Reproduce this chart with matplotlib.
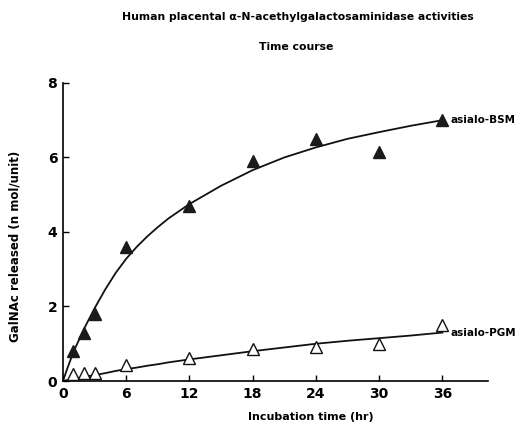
import matplotlib
matplotlib.use("Agg")
import matplotlib.pyplot as plt

# measured data points
time_pts = [1, 2, 3, 6, 12, 18, 24, 30, 36]
bsm_vals = [0.8, 1.3, 1.8, 3.6, 4.7, 5.9, 6.5, 6.15, 7.0]
pgm_vals = [0.2, 0.22, 0.22, 0.42, 0.62, 0.86, 0.92, 0.98, 1.5]

# fitted curves
curve_t = [0, 0.5, 1, 2, 3, 4, 5, 6, 7, 8, 9, 10, 12, 15, 18, 21, 24, 27, 30, 33, 36]
bsm_curve = [0, 0.4, 0.78, 1.4, 1.95, 2.45, 2.9, 3.28, 3.6, 3.88, 4.13, 4.36, 4.75, 5.24,
             5.66, 6.0, 6.27, 6.5, 6.68, 6.85, 7.0]
pgm_curve = [0, 0.03, 0.06, 0.11, 0.16, 0.21, 0.27, 0.32, 0.36, 0.41, 0.45, 0.5, 0.58, 0.69,
             0.8, 0.9, 1.0, 1.08, 1.15, 1.22, 1.3]

xticks = [0, 6, 12, 18, 24, 30, 36]
yticks = [0, 2, 4, 6, 8]

plt.rcParams['font.family'] = ['DejaVu Sans']
plt.rcParams['font.weight'] = 'bold'

fig = plt.figure(figsize=(5.2, 4.24), dpi=100)
ax = fig.add_axes([0.121, 0.1014, 0.817, 0.703])

ax.plot(curve_t, bsm_curve, color='#111', lw=1.3, zorder=2)
ax.plot(curve_t, pgm_curve, color='#111', lw=1.3, zorder=2)
ax.plot(time_pts, bsm_vals, ls='none', marker='^', ms=9, mfc='#1a1a1a',
        mec='#1a1a1a', zorder=3, clip_on=False)
ax.plot(time_pts, pgm_vals, ls='none', marker='^', ms=9, mfc='white',
        mec='#111', mew=1.0, zorder=3, clip_on=False)

ax.set_xlim(0, 40.3)
ax.set_ylim(0, 8)
for s in ['top', 'right']:
    ax.spines[s].set_visible(False)
for s in ['left', 'bottom']:
    ax.spines[s].set_linewidth(1.2)
ax.set_xticks(xticks)
ax.set_yticks(yticks)
ax.tick_params(direction='in', length=4, width=1, labelsize=10, pad=4)
for lbl in ax.get_xticklabels() + ax.get_yticklabels():
    lbl.set_fontweight('bold')

ax.text(36.8, 7.0, 'asialo-BSM', fontsize=7.5, fontweight='bold', va='center', ha='left')
ax.text(36.8, 1.28, 'asialo-PGM', fontsize=7.5, fontweight='bold', va='center', ha='left')

fig.text(0.573, 1 - 17 / 424, 'Human placental α-N-acethylgalactosaminidase activities',
         ha='center', va='center', fontsize=7.8, fontweight='bold')
fig.text(0.569, 1 - 47 / 424, 'Time course', ha='center', va='center',
         fontsize=7.8, fontweight='bold')
fig.text(0.598, 1 - 417 / 424, 'Incubation time (hr)', ha='center', va='center',
         fontsize=8, fontweight='bold')
fig.text(0.029, 1 - 246 / 424, 'GalNAc released (n mol/unit)', ha='center', va='center',
         rotation=90, fontsize=8.5, fontweight='bold')

fig.savefig('out.png', dpi=100)
